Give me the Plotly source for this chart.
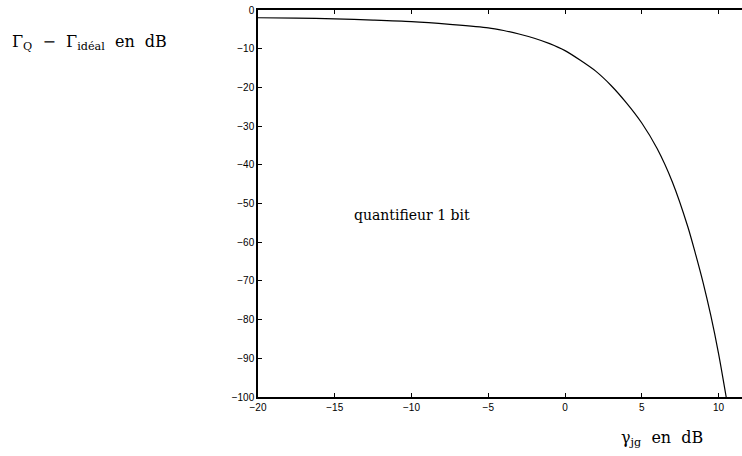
import plotly.graph_objects as go

# SNR gap of the 1-bit quantizer versus the ideal receiver
gamma_jg_db = [-20, -17.5, -15, -12.5, -10, -7.5, -5, -4, -3, -2, -1, 0, 1, 2, 3, 4, 5, 6, 7, 8, 8.5, 9, 9.5, 10, 10.5]
gap_db = [-2.0, -2.1, -2.3, -2.6, -3.0, -3.7, -4.6, -5.3, -6.2, -7.3, -8.7, -10.5, -13.0, -15.8, -19.5, -24.0, -29.2, -35.8, -44.5, -56.0, -63.0, -70.5, -79.0, -88.7, -100.0]

x_ticks = [-20, -15, -10, -5, 0, 5, 10]
y_ticks = [0, -10, -20, -30, -40, -50, -60, -70, -80, -90, -100]

serif = "'DejaVu Serif', 'Liberation Serif', serif"
sans = "'Liberation Sans', Arial, Helvetica, sans-serif"

fig = go.Figure()
fig.add_trace(go.Scatter(
    x=gamma_jg_db, y=gap_db, mode="lines",
    line=dict(color="black", width=1.2, shape="spline", smoothing=0.8),
    showlegend=False, hoverinfo="skip",
))

fig.update_xaxes(
    range=[-20, 11.53], tickvals=x_ticks, ticks="inside", ticklen=4,
    tickcolor="black", tickwidth=1, showline=True, linecolor="black",
    linewidth=1.5, mirror="ticks", showgrid=False, zeroline=False,
    tickfont=dict(family=sans, size=10, color="black"),
)
fig.update_yaxes(
    range=[-100, 0], tickvals=y_ticks, ticks="inside", ticklen=4,
    tickcolor="black", tickwidth=1, showline=True, linecolor="black",
    linewidth=1.5, mirror=False, showgrid=False, zeroline=False,
    tickfont=dict(family=sans, size=10, color="black"),
)

fig.add_annotation(
    x=-10, y=-53, xref="x", yref="y", text="quantifieur 1 bit",
    showarrow=False, xanchor="center", yanchor="middle",
    font=dict(family=serif, size=14, color="black"),
)
fig.add_annotation(
    x=-0.512, y=0.915, xref="paper", yref="paper",
    text="Γ<sub>Q</sub>  −  Γ<sub>idéal</sub>  en  dB",
    showarrow=False, xanchor="left", yanchor="middle",
    font=dict(family=serif, size=16, color="black"),
)
fig.add_annotation(
    x=0.835, y=-0.106, xref="paper", yref="paper", text="γ<sub>jg</sub>  en  dB",
    showarrow=False, xanchor="center", yanchor="middle",
    font=dict(family=serif, size=16, color="black"),
)

fig.update_layout(
    width=742, height=456,
    margin=dict(l=258, r=0, t=10, b=59),
    paper_bgcolor="white", plot_bgcolor="white",
)

fig.write_html("out.html")
